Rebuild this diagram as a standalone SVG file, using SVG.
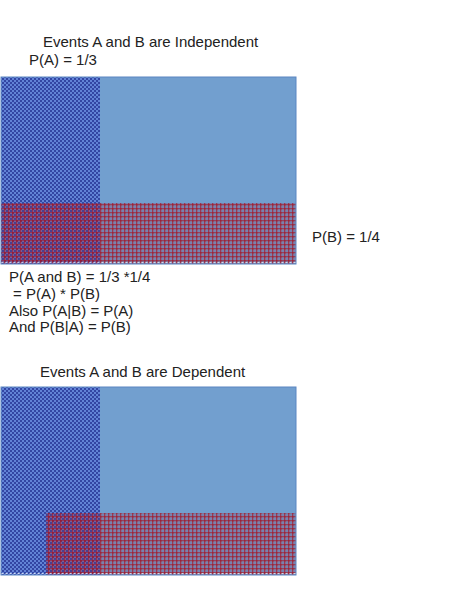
<svg xmlns="http://www.w3.org/2000/svg" width="464" height="600" viewBox="0 0 464 600">
<style>
text{font-family:"Liberation Sans",Arial,sans-serif;font-size:15px;fill:#222}
.bg{fill:#729fcf;stroke:#5b86c2;stroke-width:1}
.chk{fill:url(#checker)}
.plaid{fill:url(#plaid)}
</style>
<defs>
<pattern id="checker" width="4" height="4" patternUnits="userSpaceOnUse">
<rect width="4" height="4" fill="#6283d6"/>
<rect width="2" height="2" fill="#3346a3"/>
<rect x="2" y="2" width="2" height="2" fill="#3346a3"/>
</pattern>
<pattern id="plaid" width="4" height="4" patternUnits="userSpaceOnUse">
<rect x="0" y="0" width="1.5" height="4" fill="#a3182a" opacity="0.75"/>
<rect x="0" y="0" width="4" height="1.5" fill="#a3182a" opacity="0.7"/>
<rect x="2" y="2" width="2" height="2" fill="#8a2a50" opacity="0.25"/>
</pattern>
</defs>
<g id="independent">
<text x="43" y="47">Events A and B are Independent</text>
<text x="29" y="65">P(A) = 1/3</text>
<rect class="bg" x="1" y="77" width="295" height="187"/>
<rect class="chk" x="1.5" y="77.5" width="98.5" height="186"/>
<rect class="plaid" x="1.5" y="203" width="294" height="60.5"/>
<line x1="1.5" y1="262.5" x2="295.5" y2="262.5" stroke="#fff" stroke-width="1" stroke-dasharray="2 2" opacity="0.7"/>
<text x="312" y="242">P(B) = 1/4</text>
<text x="9" y="282">P(A and B) = 1/3 *1/4</text>
<text x="13" y="299">= P(A) * P(B)</text>
<text x="9" y="316">Also P(A|B) = P(A)</text>
<text x="9" y="332">And P(B|A) = P(B)</text>
</g>
<g id="dependent">
<text x="40" y="377">Events A and B are Dependent</text>
<rect class="bg" x="1" y="387" width="295" height="188"/>
<rect class="chk" x="1.5" y="387.5" width="98.5" height="187"/>
<rect class="plaid" x="46" y="513" width="249.5" height="61.5"/>
<line x1="1.5" y1="573.5" x2="295.5" y2="573.5" stroke="#fff" stroke-width="1" stroke-dasharray="2 2" opacity="0.7"/>
</g>
</svg>
